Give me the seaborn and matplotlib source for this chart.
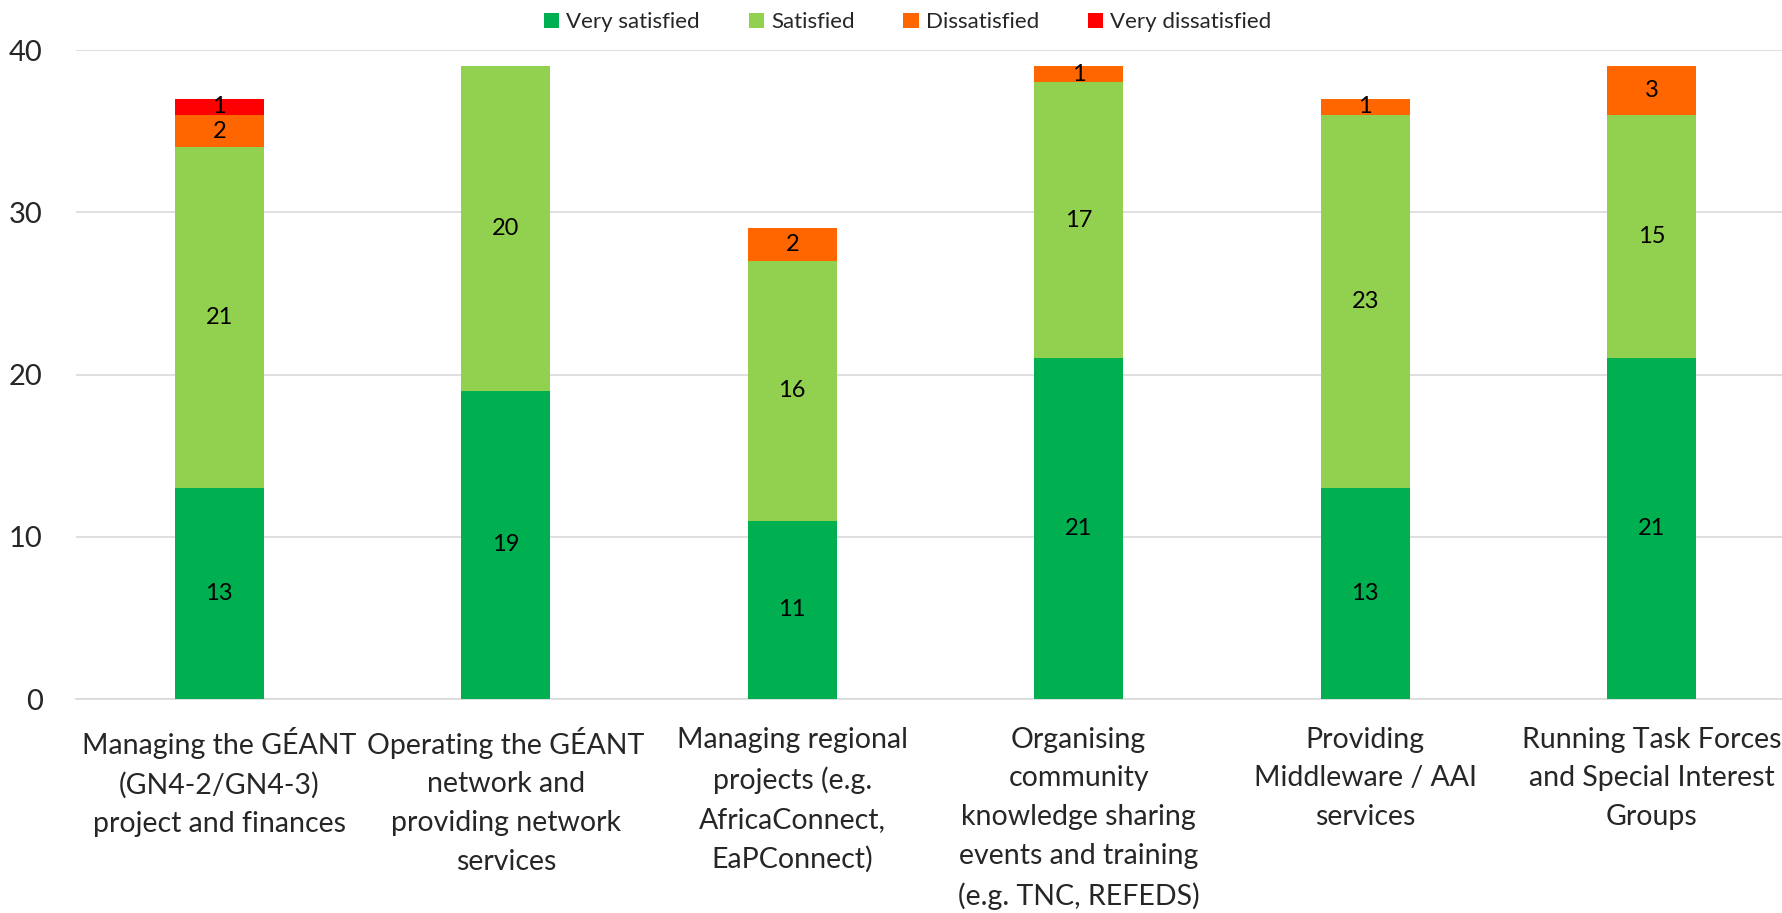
import numpy as np
import pandas as pd
import matplotlib
matplotlib.use("Agg")
import matplotlib.pyplot as plt
import seaborn as sns
from matplotlib.ticker import FixedLocator

# Data
categories = [
    "Managing the GÉANT\n(GN4-2/GN4-3)\nproject and finances",
    "Operating the GÉANT\nnetwork and\nproviding network\nservices",
    "Managing regional\nprojects (e.g.\nAfricaConnect,\nEaPConnect)",
    "Organising\ncommunity\nknowledge sharing\nevents and training\n(e.g. TNC, REFEDS)",
    "Providing\nMiddleware / AAI\nservices",
    "Running Task Forces\nand Special Interest\nGroups",
]
very_satisfied = [13, 19, 11, 21, 13, 21]
satisfied = [21, 20, 16, 17, 23, 15]
dissatisfied = [2, 0, 2, 1, 1, 3]
very_dissatisfied = [1, 0, 0, 0, 0, 0]

series_names = ["Very satisfied", "Satisfied", "Dissatisfied", "Very dissatisfied"]
series_values = [very_satisfied, satisfied, dissatisfied, very_dissatisfied]
colors = ["#00B050", "#92D050", "#FF6600", "#FF0000"]

sns.set_style("white")
plt.rcParams["font.family"] = ["Lato", "DejaVu Sans"]

fig = plt.figure(figsize=(17.83, 9.13), dpi=100)
ax = fig.add_axes([76 / 1783, 1 - 699 / 913, (1795 - 76) / 1783, (699 - 50) / 913])

# stacked bars, one barplot call per series
bottom = np.zeros(len(categories))
for name, vals, col in zip(series_names, series_values, colors):
    sns.barplot(x=categories, y=vals, bottom=bottom, color=col, width=0.31,
                label=name, ax=ax, saturation=1, zorder=3, linewidth=0)
    cont = ax.containers[-1]
    labels = [str(v) if v > 0 else "" for v in vals]
    ax.bar_label(cont, labels=labels, label_type="center", fontsize=17, color="black")
    bottom = bottom + np.array(vals)

ax.set_ylim(0, 40)
ax.set_xlim(-0.5, len(categories) - 0.5)
ax.set_yticks([0, 10, 20, 30, 40])
ax.yaxis.grid(True, color="#d9d9d9", linewidth=1.2, zorder=0)
ax.set_axisbelow(True)
for s in ["top", "right", "left"]:
    ax.spines[s].set_visible(False)
ax.spines["bottom"].set_color("#d9d9d9")
ax.spines["bottom"].set_linewidth(1.2)
ax.tick_params(axis="y", length=0, labelsize=21, pad=24)
ax.tick_params(axis="x", which="major", length=0, labelsize=20.5, pad=20)
ax.xaxis.set_minor_locator(FixedLocator(np.arange(-0.5, len(categories), 1.0)))
ax.tick_params(axis="x", which="minor", length=8, width=1.2, color="#d9d9d9", direction="out")
for lbl in ax.get_xticklabels():
    lbl.set_multialignment("center")
    lbl.set_linespacing(1.6)
ax.set_xlabel("")
ax.set_ylabel("")

ax.legend(loc="upper center", bbox_to_anchor=(0.509, 1.0), bbox_transform=fig.transFigure,
          ncol=4, frameon=False, fontsize=16, handlelength=0.7, handleheight=0.7,
          handletextpad=0.3, columnspacing=2.2, borderaxespad=0.15)

fig.savefig("out.png", dpi=100)
